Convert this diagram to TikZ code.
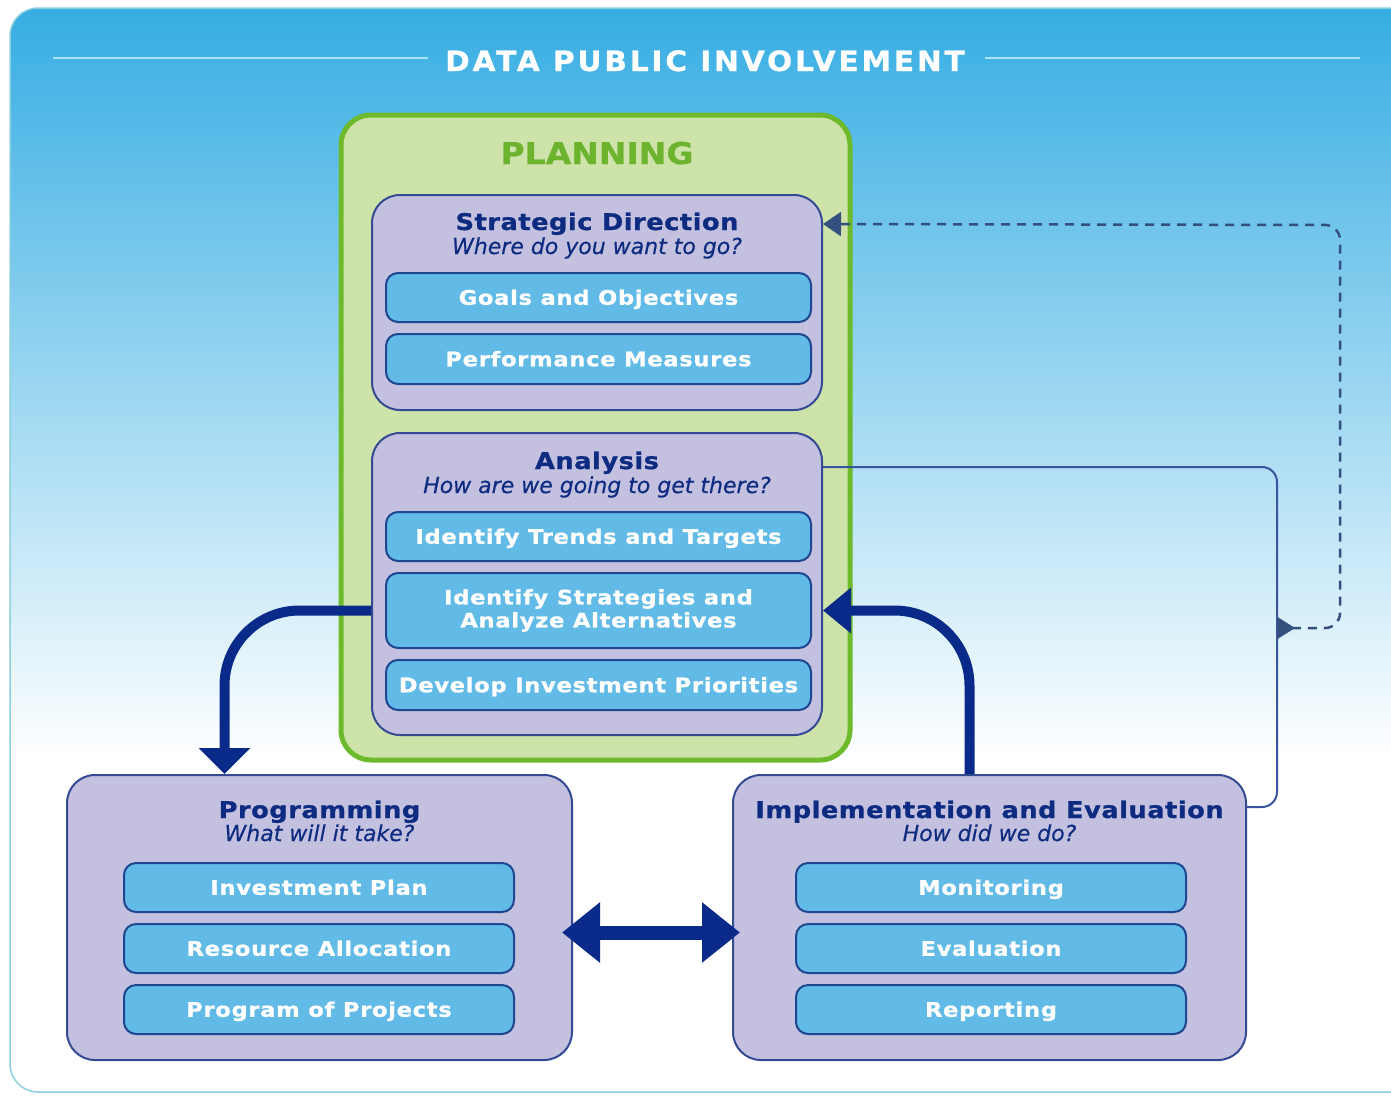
\documentclass[tikz,border=0pt]{standalone}
\usepackage{fontspec}
\setmainfont{DejaVu Sans}
\usetikzlibrary{arrows.meta,calc}
\definecolor{bgtop}{HTML}{36ADE3}
\definecolor{bgmid}{HTML}{B0DCF3}
\definecolor{navy}{HTML}{0D2B80}
\definecolor{arrnavy}{HTML}{0A2A8A}
\definecolor{lav}{HTML}{C3C1DF}
\definecolor{sky}{HTML}{62BAE6}
\definecolor{subborder}{HTML}{1F4690}
\definecolor{boxborder}{HTML}{344A92}
\definecolor{pgreen}{HTML}{6DBA2C}
\definecolor{pgreenfill}{HTML}{CEE3A9}
\definecolor{ptext}{HTML}{6CB42E}
\definecolor{dashcol}{HTML}{33507E}
\definecolor{fbcol}{HTML}{3A55A0}
\definecolor{tline}{HTML}{A9E3F7}
\definecolor{oborder}{HTML}{8CCFDD}
\tikzset{
  outerbox/.style={draw=boxborder, fill=lav, line width=2pt, rounded corners=28pt, inner sep=0pt},
  subbox/.style={draw=subborder, fill=sky, line width=2pt, rounded corners=12pt, inner sep=0pt,
     text=white, font=\bfseries\fontsize{20}{24}\selectfont\addfontfeatures{FakeStretch=1.13,LetterSpace=3.5,FakeBold=0.9}, align=center},
  oneline/.style={text height=14.5pt, text depth=0pt},
  ttl/.style={text=navy, font=\bfseries\fontsize{23}{27}\selectfont\addfontfeatures{FakeStretch=1.12,LetterSpace=2,FakeBold=0.8}, anchor=base, inner sep=0pt},
  sub/.style={text=navy, font=\itshape\fontsize{22}{26}\selectfont\addfontfeatures{FakeStretch=1.0,FakeBold=0.4}, anchor=base, inner sep=0pt},
  bigarrow/.style={draw=arrnavy, line width=10pt},
  dashline/.style={draw=dashcol, line width=2.5pt, dash pattern=on 9pt off 7pt},
  fbline/.style={draw=fbcol, line width=2pt},
}
\begin{document}
\begin{tikzpicture}[x=1pt,y=-1pt]
\useasboundingbox (0,0) rectangle (1391,1095);
% background
\fill[white] (0,0) rectangle (1391,1095);
\begin{scope}
  \clip[rounded corners=28pt] (10,8) rectangle (1420,1092);
  \shade[top color=bgtop, middle color=bgmid, bottom color=white] (0,8) rectangle (1420,760);
\end{scope}
\draw[oborder, line width=1.5pt, rounded corners=28pt] (10,8) rectangle (1420,1092);
% title
\node[text=white, font=\bfseries\fontsize{28}{32}\selectfont\addfontfeatures{FakeStretch=1.06,LetterSpace=10,FakeBold=0.8}, anchor=base, inner sep=0pt] (title) at (705,71) {DATA PUBLIC INVOLVEMENT};
\draw[tline, line width=2.5pt] ($(title.west)+(-17,-3)$) -- +(-375,0);
\draw[tline, line width=2.5pt] ($(title.east)+(20,-3)$) -- +(375,0);
% planning
\node[draw=pgreen, fill=pgreenfill, line width=5pt, rounded corners=30pt, minimum width=509pt, minimum height=645pt, inner sep=0pt] (planning) at (595.5,437.5) {};
\node[text=ptext, font=\bfseries\fontsize{30}{34}\selectfont\addfontfeatures{FakeStretch=1.1,FakeBold=0.8}, anchor=base, inner sep=0pt] (ptitle) at (597,164) {PLANNING};
% strategic direction
\node[outerbox, minimum width=450pt, minimum height=215pt] (strategic) at (597,302.5) {};
\node[ttl] (sdt) at ($(strategic.north)+(0,36)$) {Strategic Direction};
\node[sub] (sds) at ($(strategic.north)+(0,60)$) {Where do you want to go?};
\node[subbox, oneline, minimum width=425pt, minimum height=49pt] (goals) at (598.5,297.5) {Goals and Objectives};
\node[subbox, oneline, minimum width=425pt, minimum height=50pt] (perf) at (598.5,359) {Performance Measures};
% analysis
\node[outerbox, minimum width=450pt, minimum height=302pt] (analysis) at (597,584) {};
\node[ttl] (ant) at ($(analysis.north)+(0,37)$) {Analysis};
\node[sub] (ans) at ($(analysis.north)+(0,61)$) {How are we going to get there?};
\node[subbox, oneline, minimum width=425pt, minimum height=49pt] (trends) at (598.5,536.5) {Identify Trends and Targets};
\node[subbox, minimum width=425pt, minimum height=75pt] (strat) at (598.5,610.5) {Identify Strategies and\\[-1pt]Analyze Alternatives};
\node[subbox, oneline, minimum width=425pt, minimum height=50pt] (develop) at (598.5,685) {Develop Investment Priorities};
% programming
\node[outerbox, minimum width=505pt, minimum height=285pt] (prog) at (319.5,917.5) {};
\node[ttl] (pgt) at ($(prog.north)+(0,44)$) {Programming};
\node[sub] (pgs) at ($(prog.north)+(0,67)$) {What will it take?};
\node[subbox, oneline, minimum width=390pt, minimum height=49pt] (invest) at (319,887.5) {Investment Plan};
\node[subbox, oneline, minimum width=390pt, minimum height=49pt] (resource) at (319,948.5) {Resource Allocation};
\node[subbox, oneline, minimum width=390pt, minimum height=49pt] (projects) at (319,1009.5) {Program of Projects};
% implementation
\node[outerbox, minimum width=513pt, minimum height=285pt] (impl) at (989.5,917.5) {};
\node[ttl] (imt) at ($(impl.north)+(0,44)$) {Implementation and Evaluation};
\node[sub] (ims) at ($(impl.north)+(0,67)$) {How did we do?};
\node[subbox, oneline, minimum width=390pt, minimum height=49pt] (monitor) at (991,887.5) {Monitoring};
\node[subbox, oneline, minimum width=390pt, minimum height=49pt] (evalb) at (991,948.5) {Evaluation};
\node[subbox, oneline, minimum width=390pt, minimum height=49pt] (report) at (991,1009.5) {Reporting};
% feedback solid line
\coordinate (fbA) at ($(analysis.north east)+(0,35)$);
\coordinate (fbI) at ($(impl.north east)+(0,33)$);
\coordinate (fbX) at (1277,0);
\draw[fbline, rounded corners=15pt] (fbA) -- (fbA -| fbX) -- (fbI -| fbX) -- (fbI);
% dashed loop
\coordinate (junc) at (1277,628);
\coordinate (sdin) at ($(strategic.north east)+(0,30)$);
\draw[dashline, rounded corners=15pt, {Triangle[reversed,length=18pt,width=22pt]}-{Triangle[length=18pt,width=24pt]}] (junc) -- (1340,628) -- (1340,225) -- (sdin);
% thick arrows
\draw[bigarrow, rounded corners=75pt, -{Triangle[length=26pt,width=50pt]}] (analysis.west |- strat) -| ([xshift=-95pt]prog.north);
\draw[bigarrow, rounded corners=75pt, -{Triangle[length=28pt,width=44pt]}] ([xshift=-20pt]impl.north) |- (analysis.east |- strat);
\draw[bigarrow, line width=14pt, {Triangle[length=38pt,width=58pt]}-{Triangle[length=38pt,width=58pt]}, shorten <=-11pt, shorten >=-8pt] ($(prog.east)+(0,15)$) -- ($(impl.west)+(0,15)$);
\end{tikzpicture}
\end{document}
